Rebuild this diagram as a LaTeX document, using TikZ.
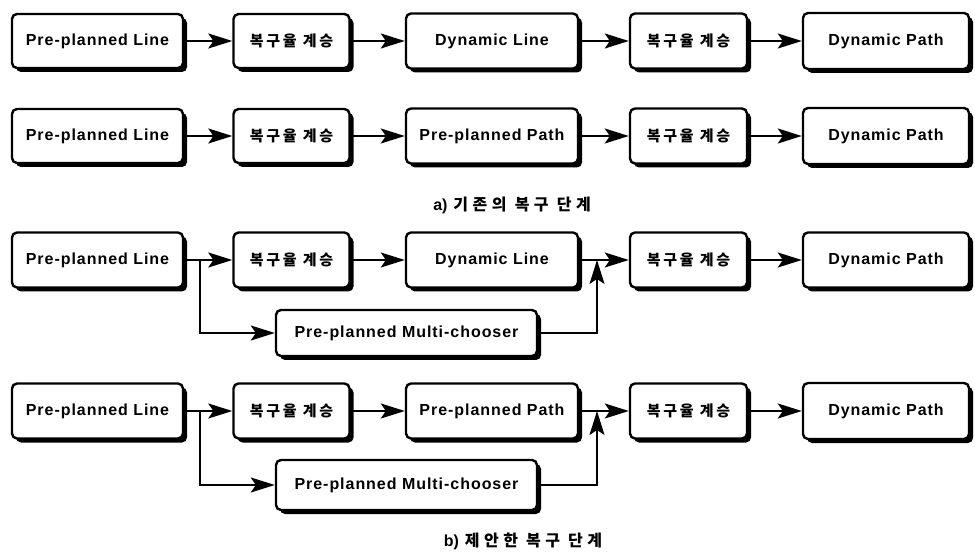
\documentclass[tikz,border=0pt]{standalone}
\usepackage{fontspec}
\setmainfont{Liberation Sans}
\newfontfamily\en[LetterSpace=6]{Liberation Sans}
\newfontfamily\kr[LetterSpace=18]{Noto Sans CJK KR}
\newfontfamily\krcap[LetterSpace=28]{Noto Sans CJK KR}
\usetikzlibrary{arrows.meta,shadows}
\tikzset{
  box/.style={draw, line width=2.4pt, rounded corners=5pt, fill=white, inner sep=0pt,
    drop shadow={shadow xshift=4pt, shadow yshift=-4pt, opacity=1, fill=black}},
  entext/.style={font=\en\bfseries\fontsize{16}{18}\selectfont},
  krtext/.style={font=\kr\bfseries\fontsize{15}{17}\selectfont},
  captext/.style={font=\fontsize{16}{18}\selectfont, inner sep=0pt},
  arr/.style={line width=1.7pt, -{Stealth[length=24pt, width=15pt, inset=5pt]}}
}
\begin{document}
\begin{tikzpicture}[x=1pt,y=1pt]
\useasboundingbox (0,0) rectangle (975,-553);
% ---------- row 1 ----------
\node[box, entext, minimum width=171pt, minimum height=54pt] (a1) at (97.5,-41) {Pre-planned Line};
\node[box, krtext, minimum width=116pt, minimum height=54pt] (a2) at (291.5,-41) {복구율 계승};
\node[box, entext, minimum width=172pt, minimum height=55pt] (a3) at (492,-41) {Dynamic Line};
\node[box, krtext, minimum width=117pt, minimum height=55pt] (a4) at (688.5,-41) {복구율 계승};
\node[box, entext, minimum width=166pt, minimum height=56pt] (a5) at (886,-41) {Dynamic Path};
\draw[arr] (a1) -- (a2);
\draw[arr] (a2) -- (a3);
\draw[arr] (a3) -- (a4);
\draw[arr] (a4) -- (a5);
% ---------- row 2 ----------
\node[box, entext, minimum width=171pt, minimum height=54pt] (b1) at (97.5,-136) {Pre-planned Line};
\node[box, krtext, minimum width=116pt, minimum height=54pt] (b2) at (291.5,-136) {복구율 계승};
\node[box, entext, minimum width=172pt, minimum height=55pt] (b3) at (492,-136) {Pre-planned Path};
\node[box, krtext, minimum width=117pt, minimum height=55pt] (b4) at (688.5,-136) {복구율 계승};
\node[box, entext, minimum width=166pt, minimum height=56pt] (b5) at (886,-136) {Dynamic Path};
\draw[arr] (b1) -- (b2);
\draw[arr] (b2) -- (b3);
\draw[arr] (b3) -- (b4);
\draw[arr] (b4) -- (b5);
\node[captext] (capa) at (512,-205) {\bfseries a)\hspace{6pt}{\krcap 기존의 복구 단계}};
% ---------- row 3 ----------
\node[box, entext, minimum width=171pt, minimum height=55pt] (c1) at (97.5,-260) {Pre-planned Line};
\node[box, krtext, minimum width=116pt, minimum height=55pt] (c2) at (291.5,-260) {복구율 계승};
\node[box, entext, minimum width=172pt, minimum height=55pt] (c3) at (492,-260) {Dynamic Line};
\node[box, krtext, minimum width=117pt, minimum height=55pt] (c4) at (688.5,-260) {복구율 계승};
\node[box, entext, minimum width=166pt, minimum height=55pt] (c5) at (886,-260) {Dynamic Path};
\node[box, entext, minimum width=261pt, minimum height=46pt] (cm) at (406.5,-333) {Pre-planned Multi-chooser};
\coordinate (cb) at (200,-260);
\coordinate (cj) at (597,-260);
\draw[arr] (c1) -- (c2);
\draw[arr] (c2) -- (c3);
\draw[arr] (c3) -- (c4);
\draw[arr] (c4) -- (c5);
\draw[arr] (cb) |- (cm.west);
\draw[arr] (cm.east) -| (cj);
% ---------- row 4 ----------
\node[box, entext, minimum width=171pt, minimum height=55pt] (d1) at (97.5,-411) {Pre-planned Line};
\node[box, krtext, minimum width=116pt, minimum height=55pt] (d2) at (291.5,-411) {복구율 계승};
\node[box, entext, minimum width=172pt, minimum height=55pt] (d3) at (492,-411) {Pre-planned Path};
\node[box, krtext, minimum width=117pt, minimum height=55pt] (d4) at (688.5,-411) {복구율 계승};
\node[box, entext, minimum width=166pt, minimum height=56pt] (d5) at (886,-411) {Dynamic Path};
\node[box, entext, minimum width=261pt, minimum height=50pt] (dm) at (406.5,-485) {Pre-planned Multi-chooser};
\coordinate (db) at (200,-411);
\coordinate (dj) at (597,-411);
\draw[arr] (d1) -- (d2);
\draw[arr] (d2) -- (d3);
\draw[arr] (d3) -- (d4);
\draw[arr] (d4) -- (d5);
\draw[arr] (db) |- (dm.west);
\draw[arr] (dm.east) -| (dj);
\node[captext] (capb) at (523,-541) {\bfseries b)\hspace{6pt}{\krcap 제안한 복구 단계}};
\end{tikzpicture}
\end{document}
